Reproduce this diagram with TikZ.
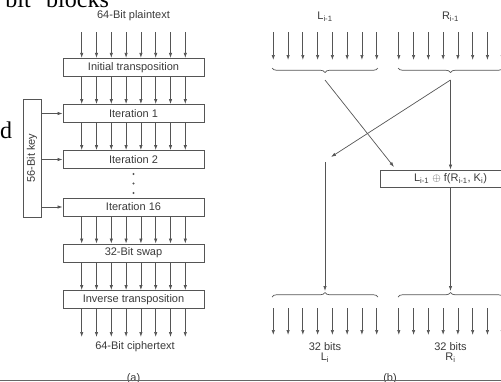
\documentclass[tikz,border=0pt]{standalone}
\usepackage{fontspec}
\setmainfont{Liberation Sans}
\newfontfamily\strayfont{Liberation Serif}
\usetikzlibrary{arrows.meta,decorations.pathreplacing}
\definecolor{linecol}{HTML}{555555}
\definecolor{txtcol}{HTML}{3A3A3A}
\begin{document}
\begin{tikzpicture}[x=1pt,y=-1pt,
  every node/.style={text=txtcol, font=\fontsize{11}{12}\selectfont, inner sep=0pt},
  box/.style={draw=linecol, line width=0.8pt, minimum width=141pt, minimum height=18pt},
  arr/.style={draw=linecol, line width=0.7pt, -{Latex[length=5pt,width=3.4pt]}},
  brc/.style={draw=linecol, line width=0.7pt, decorate, decoration={brace, amplitude=4.5pt}},
  stray/.style={text=black, font=\strayfont\fontsize{24}{24}\selectfont},
]
\useasboundingbox (0,0) rectangle (501,381);
\clip (0,0) rectangle (501,381);

% stray slide text
\node[stray, anchor=base east] (s1) at (31,7.5) {bit};
\node[stray, anchor=base west] (s2) at (46,7.5) {blocks};
\node[stray, anchor=base west] (s3) at (0,138) {d};

% ---------- (a) ----------
\node (plain) at (133.5,16) {64-Bit plaintext};
\node[box] (init) at (133.5,67.3) {Initial transposition};
\node[box] (it1) at (133.5,113.5) {Iteration 1};
\node[box] (it2) at (133.5,159.5) {Iteration 2};
\node[box] (it16) at (133.5,207) {Iteration 16};
\node[box] (swap) at (133.5,253) {32-Bit swap};
\node[box] (inv) at (133.5,299.5) {Inverse transposition};
\node (ciph) at (135,347) {64-Bit ciphertext};
\node[anchor=north] (capa) at (133.5,373) {(a)};
\coordinate (atop) at (133.5,32);
\coordinate (abot) at (133.5,337);

\foreach \k in {0,...,7}{
  \pgfmathsetmacro\dx{(\k-3.5)*14.8}
  \draw[arr] ([xshift=\dx pt]atop) -- ([xshift=\dx pt]init.north);
  \draw[arr] ([xshift=\dx pt]init.south) -- ([xshift=\dx pt]it1.north);
  \draw[arr] ([xshift=\dx pt]it1.south) -- ([xshift=\dx pt]it2.north);
  \draw[arr] ([xshift=\dx pt]it16.south) -- ([xshift=\dx pt]swap.north);
  \draw[arr] ([xshift=\dx pt]swap.south) -- ([xshift=\dx pt]inv.north);
  \draw[arr] ([xshift=\dx pt]inv.south) -- ([xshift=\dx pt]abot);
}

\foreach \y/\n in {174/d1,183.5/d2,193/d3}
  \node[circle, fill=linecol, minimum size=2.4pt] (\n) at (133.5,\y) {};

\node[draw=linecol, line width=0.8pt, rotate=90, minimum width=118pt, minimum height=18pt] (key) at (32,158) {56-Bit key};
\draw[arr] (key.south |- it1) -- (it1.west);
\draw[arr] (key.south |- it2) -- (it2.west);
\draw[arr] (key.south |- it16) -- (it16.west);

% ---------- (b) ----------
\node (lprev) at (325,17) {L\textsubscript{i-1}};
\node (rprev) at (450.5,17) {R\textsubscript{i-1}};
\coordinate (Ltop) at (325,32);
\coordinate (Lin) at (325,60);
\coordinate (Rtop) at (450.5,32);
\coordinate (Rin) at (450.5,60);
\coordinate (Lbt) at (325,308);
\coordinate (Lbb) at (325,335);
\coordinate (Rbt) at (450.5,308);
\coordinate (Rbb) at (450.5,335);
\foreach \k in {0,...,7}{
  \pgfmathsetmacro\dx{(\k-3.5)*14.77}
  \draw[arr] ([xshift=\dx pt]Ltop) -- ([xshift=\dx pt]Lin);
  \draw[arr] ([xshift=\dx pt]Rtop) -- ([xshift=\dx pt]Rin);
  \draw[arr] ([xshift=\dx pt]Lbt) -- ([xshift=\dx pt]Lbb);
  \draw[arr] ([xshift=\dx pt]Rbt) -- ([xshift=\dx pt]Rbb);
}

\draw[brc] (378,68) -- (272,68);
\draw[brc] (503,68) -- (398,68);
\draw[brc] (272,297) -- (378,297);
\draw[brc] (398,297) -- (503,297);

\coordinate (Ltip) at (325,80);
\coordinate (Rtip) at (450.5,80);
\coordinate (Lotip) at (325,291);
\coordinate (Rotip) at (450.5,291);
\coordinate (fin) at (394,167);
\coordinate (lbend) at (331,157);
\coordinate (lstart) at (325,162);

\node[draw=linecol, line width=0.8pt, minimum width=140pt, minimum height=17pt] (fbox) at (450.5,178.5)
  {L\textsubscript{i-1} $\oplus$ f(R\textsubscript{i-1}, K\textsubscript{i})};

\draw[arr] (Ltip) -- (fin);
\draw[arr] (Rtip) -- (lbend);
\draw[arr] (Rtip) -- (fbox.north);
\draw[arr] (lstart) -- (Lotip);
\draw[arr] (fbox.south) -- (Rotip);

\node (lbits) at (325,347) {32 bits};
\node (lnew) at (325,358) {L\textsubscript{i}};
\node (rbits) at (450.5,347) {32 bits};
\node (rnew) at (450.5,358) {R\textsubscript{i}};
\node[anchor=north] (capb) at (390,373) {(b)};

\draw[line width=1.4pt, draw=black!60] (0,380.5) -- (501,380.5);
\end{tikzpicture}
\end{document}
